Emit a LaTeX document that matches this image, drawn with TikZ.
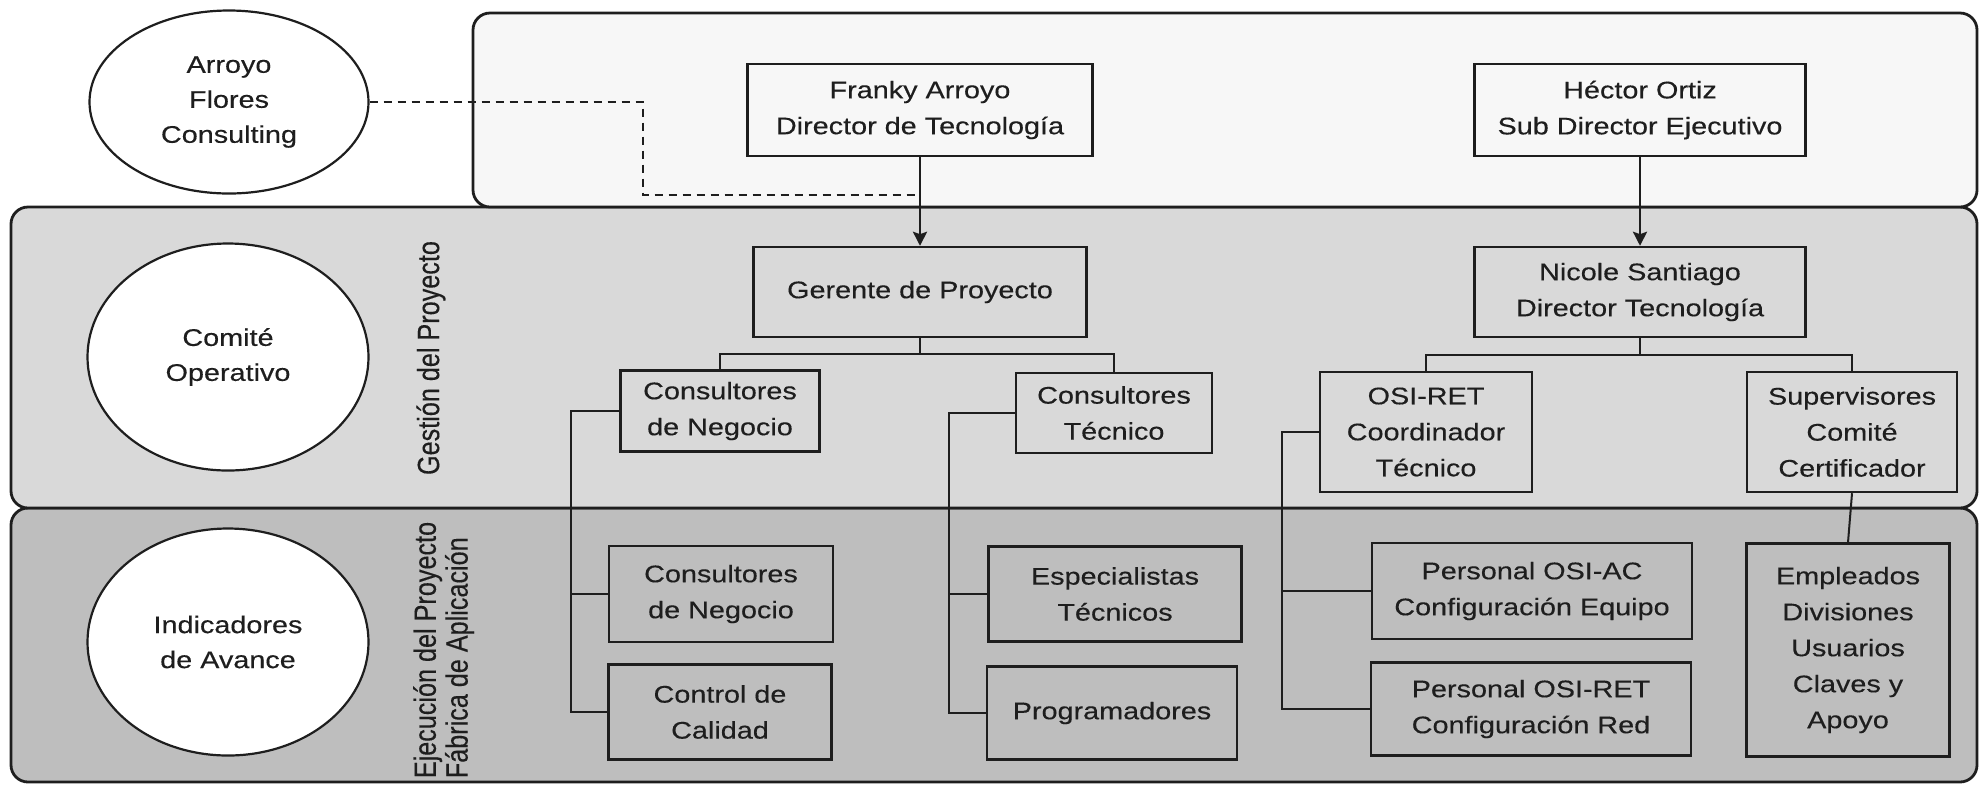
\documentclass[tikz,border=0pt]{standalone}
\usepackage{fontspec}
\usepackage{graphicx}
\setmainfont{Liberation Sans}[FakeStretch=1.2,FakeBold=0.3]
\newfontfamily\widefont{Liberation Sans}[FakeBold=0.3]
\usetikzlibrary{shapes.geometric,arrows.meta}
\definecolor{topfill}{RGB}{247,247,247}
\definecolor{midfill}{RGB}{217,217,217}
\definecolor{botfill}{RGB}{190,190,190}
\definecolor{ink}{RGB}{30,30,30}
\begin{document}
\begin{tikzpicture}[x=0.5pt,y=-0.5pt,
  panel/.style={draw=ink, line width=1.4pt, rounded corners=8.5pt},
  box/.style={draw=ink, line width=1.2pt, rectangle, inner sep=0pt, align=center, text=ink, font=\fontsize{12}{18}\selectfont},
  oval/.style={draw=ink, line width=1.1pt, ellipse, fill=white, inner sep=0pt, align=center, text=ink, font=\fontsize{12}{17.5}\selectfont},
  link/.style={draw=ink, line width=1pt},
  dlink/.style={draw=ink, line width=0.9pt, dash pattern=on 4.2pt off 2.8pt},
  arrowlink/.style={draw=ink, line width=1.4pt, -{Stealth[length=7pt,width=7pt,inset=1.2pt]}},
  side/.style={rotate=90, text=ink, font=\widefont\fontsize{12.6}{12.6}\selectfont, inner sep=0pt}
]
\useasboundingbox (0,0) rectangle (1979,784);
% panels
\draw[panel, fill=botfill] (11,508) rectangle (1977,782);
\draw[panel, fill=midfill] (11,207) rectangle (1977,508);
\draw[panel, fill=topfill] (473,13) rectangle (1977,207);

% ovals
\node[oval, minimum width=139.5pt, minimum height=91.5pt] (afc) at (229,102) {Arroyo\\Flores\\Consulting};
\node[oval, minimum width=140.5pt, minimum height=113.5pt] (co) at (228,357) {Comité\\Operativo};
\node[oval, minimum width=140.5pt, minimum height=113.5pt] (ia) at (228,642) {Indicadores\\de Avance};

% side labels
\node[side] (gp) at (431,358) {\scalebox{1}[1.22]{Gestión del Proyecto}};
\node[side] (ej) at (445,650) {\scalebox{1}[1.22]{\begin{tabular}{@{}l@{}}Ejecución del Proyecto\\Fábrica de Aplicación\end{tabular}}};

% boxes
\node[box, minimum width=172.5pt, minimum height=46pt] (franky) at (920,110) {Franky Arroyo\\Director de Tecnología};
\node[box, minimum width=165.5pt, minimum height=46pt] (hector) at (1640,110) {Héctor Ortiz\\Sub Director Ejecutivo};
\node[box, minimum width=166.5pt, minimum height=45pt] (gerente) at (920,292) {Gerente de Proyecto};
\node[box, minimum width=165.5pt, minimum height=45pt] (nicole) at (1640,292) {Nicole Santiago\\Director Tecnología};
\node[box, minimum width=99.5pt, minimum height=40.5pt] (cn1) at (720,411) {Consultores\\de Negocio};
\node[box, minimum width=98pt, minimum height=40pt] (ct) at (1114,413) {Consultores\\Técnico};
\node[box, minimum width=112pt, minimum height=48pt] (cn2) at (721,594) {Consultores\\de Negocio};
\node[box, minimum width=111.5pt, minimum height=47.5pt] (cc) at (720,712) {Control de\\Calidad};
\node[box, minimum width=126.5pt, minimum height=47.5pt] (et) at (1115,594) {Especialistas\\Técnicos};
\node[box, minimum width=125pt, minimum height=46.5pt] (pr) at (1112,713) {Programadores};
\node[box, minimum width=106pt, minimum height=60pt] (osi) at (1426,432) {OSI-RET\\Coordinador\\Técnico};
\node[box, minimum width=105pt, minimum height=60pt] (sup) at (1852,432) {Supervisores\\Comité\\Certificador};
\node[box, minimum width=101.5pt, minimum height=106.5pt] (emp) at (1848,650) {Empleados\\Divisiones\\Usuarios\\Claves y\\Apoyo};
\node[box, minimum width=160pt, minimum height=48pt] (pac) at (1532,591) {Personal OSI-AC\\Configuración Equipo};
\node[box, minimum width=160pt, minimum height=46.5pt] (pret) at (1531,709) {Personal OSI-RET\\Configuración Red};

% helper coordinates
\coordinate (d2) at (643,195);
\coordinate (gj) at (920,354);
\coordinate (nj) at (1640,355);
\coordinate (bx1) at (571,411);
\coordinate (bx2) at (949,413);
\coordinate (bx3) at (1282,432);

% connectors
\draw[dlink] (afc.east) -| (d2) -- (franky.south |- d2);
\draw[arrowlink] (franky.south) -- (gerente.north);
\draw[arrowlink] (hector.south) -- (nicole.north);
\draw[link] (gerente.south) -- (gj) -| (cn1.north);
\draw[link] (gj) -| (ct.north);
\draw[link] (nicole.south) -- (nj) -| (osi.north);
\draw[link] (nj) -| (sup.north);
\draw[link] (cn1.west) -- (bx1) |- (cc.west);
\draw[link] (bx1) |- (cn2.west);
\draw[link] (ct.west) -- (bx2) |- (pr.west);
\draw[link] (bx2) |- (et.west);
\draw[link] (osi.west) -- (bx3) |- (pret.west);
\draw[link] (bx3) |- (pac.west);
\draw[link] (sup.south) -- (emp.north);
\end{tikzpicture}
\end{document}
